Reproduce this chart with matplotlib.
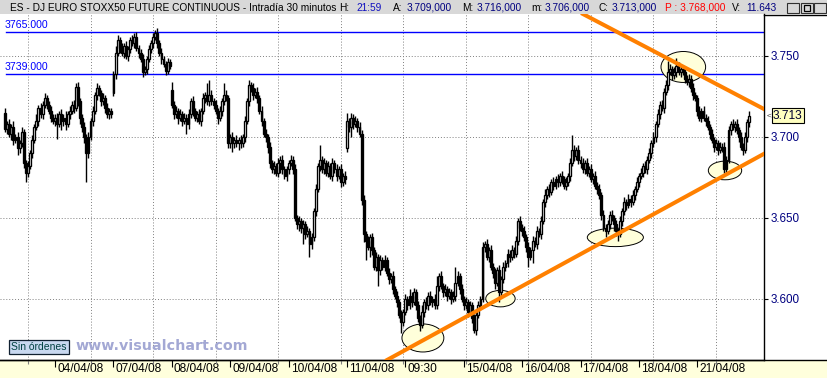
import matplotlib
matplotlib.use("Agg")
import matplotlib.pyplot as plt
import numpy as np
import matplotlib.transforms as mtransforms
from matplotlib.patches import Ellipse, Rectangle
from matplotlib.lines import Line2D
from matplotlib.ticker import FuncFormatter

plt.rcParams['font.family'] = ['Liberation Sans', 'DejaVu Sans']

# 30 minute closes, one row per session (first one partial)
closes = [
    3705, 3708, 3702, 3706, 3698, 3700, 3693, 3696, 3703, 3684, 3678, 3682, 3690, 3698, 3706, 3710, 3718, 3714, 3720, 3724, 3720, 3716, 3712, 3710,
    3712, 3708, 3714, 3710, 3712, 3708, 3714, 3716, 3720, 3718, 3731, 3722, 3712, 3706, 3700, 3690, 3700, 3710, 3716, 3726, 3730, 3727, 3722, 3724, 3718, 3714, 3716, 3714,
    3739, 3752, 3760, 3755, 3752, 3756, 3750, 3754, 3760, 3758, 3762, 3755, 3752, 3748, 3740, 3742, 3748, 3754, 3758, 3762, 3764, 3758, 3752, 3748, 3745, 3741, 3746, 3744,
    3720, 3714, 3716, 3712, 3714, 3710, 3712, 3708, 3714, 3722, 3716, 3712, 3714, 3710, 3716, 3724, 3726, 3722, 3726, 3722, 3720, 3716, 3712, 3716, 3722, 3726, 3724, 3696,
    3700, 3696, 3698, 3696, 3698, 3696, 3700, 3710, 3722, 3732, 3730, 3726, 3728, 3724, 3716, 3710, 3702, 3700, 3694, 3684, 3680, 3682, 3678, 3684, 3686, 3680, 3676, 3680,
    3684, 3686, 3680, 3650, 3646, 3648, 3644, 3646, 3640, 3642, 3634, 3638, 3654, 3668, 3682, 3686, 3680, 3684, 3678, 3682, 3676, 3684, 3680, 3676, 3680, 3672, 3676, 3674,
    3710, 3706, 3712, 3708, 3710, 3706, 3702, 3661, 3640, 3636, 3632, 3638, 3630, 3620, 3626, 3618, 3624, 3620, 3624, 3616, 3612, 3614, 3606, 3602, 3598, 3590, 3586, 3592,
    3600, 3596, 3602, 3598, 3604, 3596, 3588, 3584, 3592, 3598, 3596, 3602, 3598, 3600, 3596, 3608, 3614, 3608, 3604, 3606, 3602, 3604, 3600, 3602, 3610, 3614, 3606, 3600,
    3596, 3598, 3592, 3596, 3588, 3581, 3590, 3596, 3600, 3632, 3634, 3626, 3630, 3620, 3616, 3610, 3618, 3604, 3612, 3620, 3622, 3628, 3626, 3630, 3628, 3636, 3648, 3644,
    3642, 3638, 3632, 3626, 3630, 3636, 3634, 3642, 3640, 3648, 3660, 3664, 3668, 3666, 3672, 3670, 3674, 3672, 3676, 3674, 3670, 3672, 3676, 3684, 3692, 3688, 3692, 3686,
    3684, 3680, 3684, 3678, 3680, 3674, 3676, 3670, 3668, 3664, 3652, 3644, 3642, 3646, 3652, 3650, 3646, 3642, 3640, 3648, 3654, 3660, 3658, 3662, 3660, 3664, 3668, 3672,
    3676, 3678, 3682, 3680, 3686, 3690, 3696, 3700, 3708, 3714, 3720, 3718, 3728, 3732, 3740, 3742, 3738, 3740, 3744, 3740, 3742, 3740, 3736, 3734, 3736, 3730, 3726, 3724,
    3716, 3712, 3716, 3712, 3710, 3706, 3702, 3698, 3694, 3696, 3692, 3694, 3694, 3680, 3686, 3704, 3708, 3706, 3708, 3704, 3700, 3694, 3692, 3700, 3709, 3713,
]
# upper / lower shadow beyond the body, points
hi_ext = [
    3, 2, 3, 2, 4, 2, 3, 2, 3, 2, 2, 3, 2, 3, 2, 4, 2, 3, 2, 3, 2, 2, 3, 2,
    2, 3, 2, 3, 2, 4, 2, 3, 2, 3, 2, 3, 2, 2, 3, 2, 3, 2, 3, 2, 3, 2, 2, 3, 2, 3, 2, 2,
    2, 4, 3, 2, 3, 2, 3, 2, 2, 3, 2, 3, 2, 2, 3, 2, 2, 3, 2, 2, 2, 3, 2, 3, 2, 2, 3, 2,
    5, 2, 3, 2, 3, 2, 3, 2, 3, 2, 3, 2, 2, 3, 2, 3, 2, 7, 9, 3, 2, 3, 2, 3, 2, 7, 3, 2,
    2, 3, 2, 3, 2, 3, 2, 3, 2, 3, 2, 3, 2, 3, 2, 3, 2, 3, 2, 3, 2, 3, 2, 3, 2, 3, 2, 2,
    2, 3, 2, 3, 2, 3, 2, 3, 2, 3, 2, 3, 2, 3, 2, 9, 2, 3, 2, 3, 2, 3, 2, 3, 2, 3, 2, 3,
    5, 2, 3, 2, 3, 2, 3, 2, 3, 2, 3, 2, 3, 2, 3, 2, 3, 2, 3, 2, 3, 2, 3, 2, 3, 2, 3, 2,
    3, 2, 4, 2, 3, 2, 3, 2, 4, 2, 3, 2, 3, 2, 3, 6, 2, 3, 2, 3, 2, 3, 2, 3, 10, 3, 2, 3,
    2, 3, 2, 3, 2, 3, 2, 3, 2, 3, 2, 3, 2, 3, 2, 3, 2, 3, 2, 3, 2, 3, 2, 3, 2, 3, 2, 3,
    2, 3, 2, 3, 2, 3, 2, 3, 2, 3, 2, 4, 2, 3, 2, 3, 2, 3, 2, 3, 2, 3, 2, 3, 9, 3, 2, 3,
    2, 3, 2, 3, 2, 3, 2, 3, 2, 3, 2, 3, 2, 3, 2, 3, 2, 3, 2, 3, 2, 3, 2, 3, 2, 3, 2, 3,
    2, 3, 2, 3, 2, 3, 2, 3, 2, 3, 2, 3, 2, 3, 7, 3, 2, 3, 5, 2, 3, 2, 3, 2, 3, 2, 3, 2,
    2, 3, 2, 3, 2, 3, 2, 3, 2, 3, 2, 3, 2, 3, 2, 3, 2, 3, 2, 3, 2, 3, 2, 3, 2, 3,
]
lo_ext = [
    2, 3, 2, 4, 3, 2, 4, 3, 2, 3, 6, 3, 2, 3, 2, 2, 3, 2, 3, 2, 3, 2, 3, 2,
    3, 9, 2, 6, 3, 4, 2, 3, 2, 3, 2, 3, 4, 3, 4, 18, 3, 2, 3, 2, 3, 2, 3, 2, 3, 2, 3, 2,
    2, 3, 2, 3, 2, 3, 2, 3, 2, 2, 3, 2, 3, 2, 3, 2, 3, 2, 2, 3, 2, 3, 2, 3, 2, 3, 2, 2,
    2, 3, 2, 4, 2, 3, 2, 6, 3, 2, 3, 2, 3, 2, 3, 2, 3, 2, 3, 2, 3, 2, 4, 2, 3, 2, 2, 3,
    3, 5, 3, 2, 4, 3, 2, 3, 2, 3, 2, 3, 2, 3, 2, 3, 2, 3, 4, 3, 2, 3, 2, 3, 6, 3, 2, 3,
    3, 2, 3, 2, 3, 4, 3, 10, 3, 2, 8, 3, 2, 3, 2, 3, 2, 3, 2, 3, 2, 3, 2, 3, 2, 3, 2, 3,
    2, 3, 6, 3, 2, 3, 2, 3, 5, 12, 2, 6, 3, 2, 3, 10, 3, 2, 3, 2, 3, 2, 3, 2, 3, 2, 7, 3,
    2, 3, 2, 3, 2, 3, 2, 4, 2, 3, 2, 3, 2, 3, 2, 2, 3, 2, 3, 2, 3, 2, 3, 2, 3, 2, 3, 2,
    3, 2, 3, 2, 3, 2, 3, 2, 3, 2, 3, 2, 3, 2, 3, 4, 2, 6, 3, 2, 3, 2, 3, 2, 3, 2, 3, 2,
    3, 2, 3, 6, 2, 8, 2, 3, 2, 3, 2, 3, 2, 3, 2, 3, 2, 3, 2, 3, 2, 3, 2, 3, 2, 3, 2, 3,
    3, 2, 3, 2, 3, 2, 3, 2, 3, 2, 3, 2, 4, 2, 3, 2, 4, 3, 4, 2, 3, 2, 3, 2, 3, 2, 3, 2,
    3, 2, 3, 2, 3, 2, 3, 2, 3, 2, 3, 2, 3, 2, 3, 2, 3, 2, 3, 2, 3, 2, 3, 2, 3, 2, 3, 2,
    3, 2, 3, 2, 3, 2, 3, 2, 3, 2, 3, 2, 3, 2, 3, 2, 3, 2, 3, 2, 3, 2, 3, 2, 3, 3,
]
# opening gaps (bar index -> open)
gap_opens = {0: 3715, 52: 3727, 80: 3729, 164: 3693}

day_start = [24, 52, 80, 108, 136, 164, 192, 220, 248, 276, 304, 332]
day_labels = ['04/04/08', '07/04/08', '08/04/08', '09/04/08', '10/04/08', '11/04/08',
              '09:30', '15/04/08', '16/04/08', '17/04/08', '18/04/08', '21/04/08']
grid_idx = [11, 41, 71, 101, 131, 161, 191, 221, 251, 281, 311, 341]
price_ticks = [3600, 3650, 3700, 3750]
levels = [3765, 3739]
last_price = 3713

upper_trend = [(285.3, 3770.4), (363.0, 3717.9)]
lower_trend = [(183.2, 3562.3), (363.0, 3688.9)]
# marked zones: (bar, price, width in bars, height in points)
zones = [(200.4, 3575.9, 20.1, 17.3), (237.6, 3600.2, 14.1, 10.2),
         (292.7, 3638.0, 26.9, 11.4), (325.3, 3743.2, 21.4, 19.1),
         (345.3, 3679.3, 16.0, 11.5)]

W, H = 828, 378
fig = plt.figure(figsize=(W / 100, H / 100), dpi=100)
fig.patch.set_facecolor('white')

def fx(x):
    return x / W

def fy(y):
    return 1 - y / H

ax = fig.add_axes([0, fy(360), fx(764), fy(14) - fy(360)])
ax.set_zorder(2)
ax.patch.set_alpha(0)
ax.set_xlim(-2.43, 364.0)
ax.set_ylim(3562.3, 3775.9)

# candles
c = np.array(closes, dtype=float)
o = np.r_[c[0], c[:-1]]
for k, v in gap_opens.items():
    o[k] = v
x = np.arange(len(c))
top = np.maximum(o, c)
bot = np.minimum(o, c)
hi = top + np.array(hi_ext)
lo = bot - np.array(lo_ext)
up = c >= o
ax.vlines(x, lo, hi, color='black', lw=1.0, zorder=3)
ax.bar(x[up], (c - o)[up], bottom=o[up], width=0.9, facecolor='white',
       edgecolor='black', lw=0.95, zorder=3.2)
ax.bar(x[~up], (o - c)[~up], bottom=c[~up], width=0.9, facecolor='black',
       edgecolor='black', lw=0.95, zorder=3.2)

for cx, cy, w, h in zones:
    ax.add_patch(Ellipse((cx, cy), w, h, facecolor='#FFFFDA', edgecolor='black',
                         lw=0.7, zorder=2.5))

for lv in levels:
    ax.axhline(lv, xmin=6 / 764, color='#0000FF', lw=1.0, zorder=2)
    ax.annotate(f"{lv}.000", xy=(5 / 764, lv), xycoords=('axes fraction', 'data'),
                xytext=(0, 2), textcoords='offset pixels', va='bottom', ha='left',
                color='#0000FF', fontsize=7.6)

ax.axline(upper_trend[0], upper_trend[1], color='#FF8000', lw=2.9, zorder=5)
ax.axline(lower_trend[0], lower_trend[1], color='#FF8000', lw=2.9, zorder=5)

# axes styling
for s in ['left', 'top']:
    ax.spines[s].set_visible(False)
ax.spines['right'].set_linewidth(1.0)
ax.spines['bottom'].set_linewidth(1.0)

ax.set_xticks(day_start)
ax.set_xticklabels(day_labels, fontsize=8.6)
ax.set_xticks(grid_idx, minor=True)
ax.tick_params(axis='x', which='major', length=5, width=0.8, direction='out', pad=-3)
ax.tick_params(axis='x', which='minor', length=3, width=0.8, color='#808080')
offset = mtransforms.ScaledTranslation(2 / 100, 0, fig.dpi_scale_trans)
for lbl in ax.get_xticklabels():
    lbl.set_horizontalalignment('left')
    lbl.set_transform(lbl.get_transform() + offset)
ax.grid(axis='x', which='minor', color='#808080', lw=0.7, linestyle=(0, (1, 2)))

ax.yaxis.tick_right()
ax.set_yticks(price_ticks)
ax.yaxis.set_major_formatter(FuncFormatter(lambda v, _: f"{v / 1000:.3f}"))
ax.tick_params(axis='y', length=3, width=0.8, pad=2, labelsize=8.4, labelcolor='#000080')
ax.grid(axis='y', which='major', color='#808080', lw=0.7, linestyle=(0, (1, 2)))

ytr = ax.get_yaxis_transform()
ax.text(1.0118, last_price, f"{last_price / 1000:.3f}", transform=ytr, va='center', ha='left',
        fontsize=8.6, color='#000030', clip_on=False,
        bbox=dict(boxstyle='square,pad=0.12', fc='#FFFFC0', ec='black', lw=0.8))
ax.text(1.0030, last_price, "<", transform=ytr, va='center', ha='left', fontsize=6,
        color='#404040', clip_on=False)

# frame pieces outside the axes
fig.patches.append(Rectangle((0, fy(14)), 1, 14 / H, transform=fig.transFigure,
                             facecolor='#D8D8D8', edgecolor='none', zorder=0))
fig.patches.append(Rectangle((0, 0), 1, fy(360), transform=fig.transFigure,
                             facecolor='#FFFFDC', edgecolor='none', zorder=0))
fig.add_artist(Line2D([0, 1], [fy(360)] * 2, color='black', lw=1.0))
fig.add_artist(Line2D([fx(764), 1], [fy(14.5)] * 2, color='black', lw=1.0))

# header
hdr = [(10, "ES - DJ EURO STOXX50 FUTURE CONTINUOUS - Intradía 30 minutos", 'black'),
       (339, "H:", 'black'), (356, "21:59", '#1010C0'),
       (393, "A:", 'black'), (407, "3.709,000", '#000080'),
       (462, "M:", 'black'), (477, "3.716,000", '#000080'),
       (531, "m:", 'black'), (545, "3.706,000", '#000080'),
       (599, "C:", 'black'), (612, "3.713,000", '#000080'),
       (665, "P : 3.768,000", '#FF0000'),
       (732, "V:", 'black'), (746, "11.643", '#000080')]
for hx, txt, col in hdr:
    fig.text(fx(hx), fy(8), txt, color=col, fontsize=7.3, va='center', ha='left')

# window buttons
for bx in [787, 801, 814]:
    fig.patches.append(Rectangle((fx(bx), fy(13)), 12 / W, 10 / H, transform=fig.transFigure,
                                 facecolor='#D8D8D8', edgecolor='#303030', lw=0.8, zorder=2))
fig.add_artist(Line2D([fx(790), fx(795)], [fy(11)] * 2, color='black', lw=1.2))
fig.patches.append(Rectangle((fx(804), fy(11)), 6 / W, 6 / H, transform=fig.transFigure,
                             facecolor='none', edgecolor='black', lw=0.9, zorder=3))
fig.add_artist(Line2D([fx(817), fx(823)], [fy(5), fy(11)], color='black', lw=1.0))
fig.add_artist(Line2D([fx(817), fx(823)], [fy(11), fy(5)], color='black', lw=1.0))

fig.text(fx(11), fy(347), "Sin órdenes", fontsize=7.5, color='#004040', va='center', ha='left',
         bbox=dict(boxstyle='square,pad=0.2', fc='#C8D8F0', ec='#102030', lw=0.9))
fig.text(fx(76), fy(346.5), "www.visualchart.com", family='DejaVu Sans', weight='bold',
         fontsize=10.3, color='#A3A8D4', va='center', ha='left')

fig.savefig('out.png', dpi=100)
